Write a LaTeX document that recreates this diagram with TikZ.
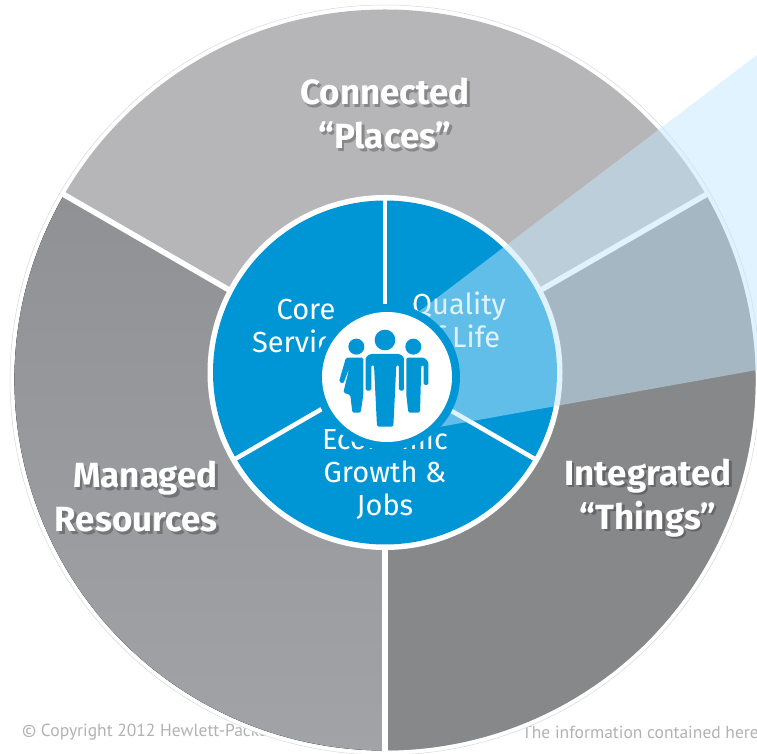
\documentclass[tikz,border=0pt]{standalone}
\usepackage{fontspec}
\setmainfont{Fira Sans}
\newfontfamily\notefont{PT Sans}
\definecolor{hpblue}{HTML}{0096D6}
\definecolor{beamblue}{RGB}{194,231,253}
\definecolor{placesgray}{HTML}{B6B6B8}
\definecolor{thingsgray}{HTML}{87888A}
\definecolor{resourcesup}{HTML}{909195}
\definecolor{resourceslow}{HTML}{A2A3A6}
\begin{document}
\begin{tikzpicture}[x=1pt,y=1pt,line join=round]
	\tikzset{
		titlelabel/.style={text=white, font=\fontsize{35}{44}\selectfont\bfseries, align=center, inner sep=0pt},
		titleshadow/.style={titlelabel, text=black, text opacity=.25},
		corelabel/.style={text=white, font=\fontsize{29}{33}\selectfont, align=center, inner sep=0pt},
		notelabel/.style={text=black!30, font=\notefont\fontsize{17.5}{20}\selectfont, inner sep=0pt},
		spoke/.style={draw=white, line width=5.5pt},
		person/.style={fill=hpblue, rounded corners=1.5pt}
	}
	\useasboundingbox (0, 0) rectangle (757, 754);
	\clip (0, 0) rectangle (757, 754);
	\coordinate (outer) at (385, 374);
	\coordinate (core) at (385, 381.5);
	\coordinate (hub) at (387, 377);

	% text behind the wheel
	\node [notelabel, anchor=west] (noteleft) at (22, 22) {© Copyright 2012 Hewlett-Packard};
	\node [notelabel, anchor=west] (noteright) at (522, 22) {The information contained here};

	% outer wheel
	\fill [white] (outer) circle (375);
	\draw [black!15, line width=.5pt] (outer) circle (375);
	\fill [placesgray] (outer) circle (370.5);
	\fill [thingsgray] (outer) -- ++(30:370.5) arc (30:-90:370.5) -- cycle;
	\fill [top color=resourcesup, bottom color=resourceslow] (outer) -- ++(150:370.5) arc (150:270:370.5) -- cycle;
	\draw [spoke] (outer) -- ++(30:372);
	\draw [spoke] (outer) -- ++(150:372);
	\draw [spoke] (outer) -- ++(270:372);

	\node [titleshadow] at (387.5, 637.5) {Connected\\“Places”};
	\node [titleshadow, anchor=east, align=right] at (220.5, 254.5) {Managed\\Resources};
	\node [titleshadow] at (650.5, 253.5) {Integrated\\“Things”};
	\node [titlelabel] (places) at (385, 640) {Connected\\“Places”};
	\node [titlelabel, anchor=east, align=right] (resources) at (218, 257) {Managed\\Resources};
	\node [titlelabel] (things) at (648, 256) {Integrated\\“Things”};

	% inner wheel
	\fill [white] (core) circle (177.5);
	\fill [hpblue] (core) circle (172);
	\draw [spoke, line width=4.5pt] (core) -- ++(90:173);
	\draw [spoke, line width=4.5pt] (core) -- ++(210:173);
	\draw [spoke, line width=4.5pt] (core) -- ++(330:173);

	\node [corelabel] (services) at (306, 428) {Core\\Services};
	\node [corelabel] (life) at (459, 434) {Quality\\of Life};
	\node [corelabel] (jobs) at (385, 281) {Economic\\Growth \&\\Jobs};

	% beam over both wheels
	\fill [beamblue, fill opacity=.5] (400, 428) -- (757, 699) -- (757, 384) -- (400, 320) -- cycle;

	% hub and people
	\fill [hpblue] (hub) circle (73);
	\fill [white] (hub) circle (65);
	\begin{scope}[shift={(330, 434)}, x=.3333pt, y=-.3333pt]
		\fill [hpblue] (165, 60) circle (31);
		\fill [hpblue] (79, 80) circle (24);
		\fill [hpblue] (250, 80) circle (24);
		\fill [person] (107, 112) -- (120, 102) -- (210, 102) -- (222, 112) -- (222, 212) -- (207, 212) -- (207, 135) -- (199, 135) -- (190, 320) -- (141, 320) -- (132, 135) -- (124, 135) -- (124, 212) -- (107, 212) -- cycle;
		\fill [person] (48, 113) -- (27, 185) -- (40, 191) -- (58, 143) -- (40, 218) -- (61, 225) -- (67, 278) -- (92, 278) -- (100, 225) -- (100, 113) -- cycle;
		\fill [person] (229, 113) -- (283, 113) -- (295, 125) -- (295, 195) -- (281, 195) -- (281, 135) -- (274, 135) -- (270, 278) -- (235, 278) -- (229, 225) -- cycle;
	\end{scope}
\end{tikzpicture}
\end{document}
